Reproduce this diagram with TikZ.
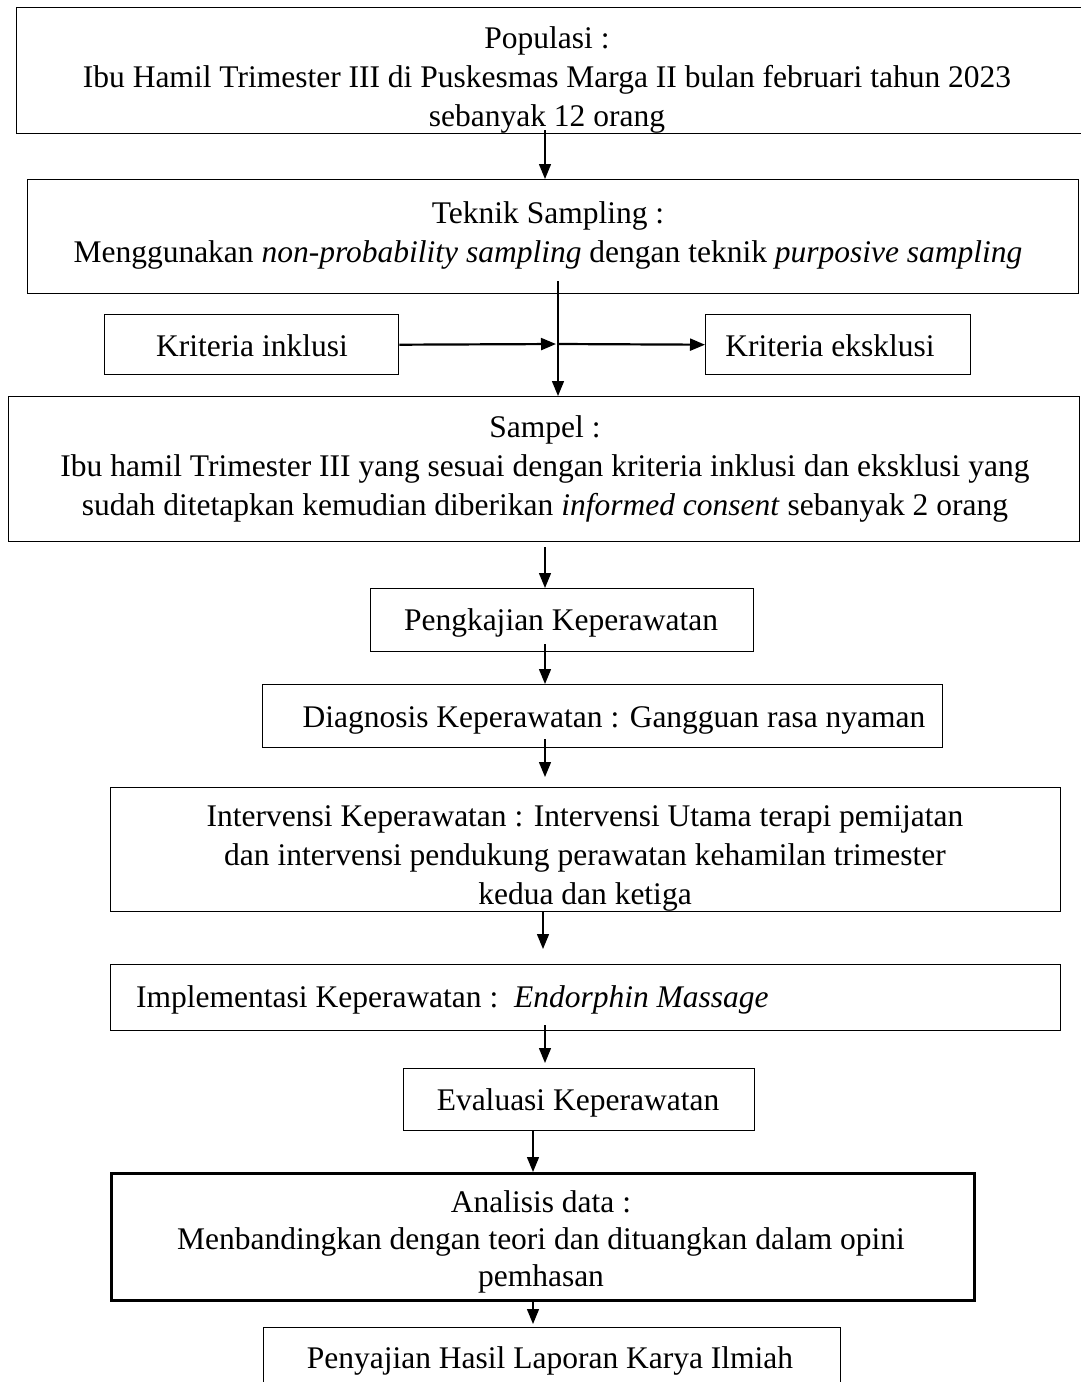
\documentclass[tikz,border=0pt]{standalone}
\usepackage{fontspec}
\setmainfont{Liberation Serif}
\usetikzlibrary{arrows.meta}
\begin{document}
\begin{tikzpicture}[x=1pt,y=-1pt,
  font=\fontsize{31.5pt}{39pt}\selectfont,
  box/.style={draw, line width=1.4pt, inner sep=0pt, anchor=north west},
  lbl/.style={inner sep=0pt, align=center},
  arr/.style={line width=1.4pt, -{Triangle[length=15pt,width=12pt]}},
  harr/.style={line width=2.2pt, -{Triangle[length=15pt,width=12pt]}},
]
\useasboundingbox (0,0) rectangle (1081,1382);
\clip (0,0) rectangle (1081,1382);
\fill[white] (0,0) rectangle (1081,1382);
% x positions of the connectors
\coordinate (x545) at (545,0);
\coordinate (x558) at (558,0);
\coordinate (x543) at (543,0);
\coordinate (x533) at (533,0);
\coordinate (j) at (558,344);
% boxes
\node[box, minimum width=1075pt, minimum height=126pt] (b1) at (16,7) {};
\node[box, minimum width=1051pt, minimum height=114pt] (b2) at (27,179) {};
\node[box, minimum width=294pt, minimum height=60pt] (b3) at (104,314) {};
\node[box, minimum width=265pt, minimum height=60pt] (b4) at (705,314) {};
\node[box, minimum width=1071pt, minimum height=145pt] (b5) at (8,396) {};
\node[box, minimum width=383pt, minimum height=63pt] (b6) at (370,588) {};
\node[box, minimum width=680pt, minimum height=63pt] (b7) at (262,684) {};
\node[box, minimum width=950pt, minimum height=124pt] (b8) at (110,787) {};
\node[box, minimum width=950pt, minimum height=66pt] (b9) at (110,964) {};
\node[box, minimum width=351pt, minimum height=62pt] (b10) at (403,1068) {};
\node[box, line width=3pt, minimum width=863pt, minimum height=127pt] (b11) at (110,1172) {};
\node[box, minimum width=577pt, minimum height=80pt] (b12) at (263,1327) {};
% texts
\node[lbl] (t1) at (547,80) {Populasi :\\Ibu Hamil Trimester III di Puskesmas Marga II bulan februari tahun 2023\\sebanyak 12 orang};
\node[lbl] (t2) at (548,235) {Teknik Sampling :\\Menggunakan \textit{non-probability sampling} dengan teknik \textit{purposive sampling}};
\node[lbl] (t3) at (252,346) {Kriteria inklusi};
\node[lbl] (t4) at (830,346) {Kriteria eksklusi};
\node[lbl] (t5) at (545,469) {Sampel :\\Ibu hamil Trimester III yang sesuai dengan kriteria inklusi dan eksklusi yang\\sudah ditetapkan kemudian diberikan \textit{informed consent} sebanyak 2 orang};
\node[lbl] (t6) at (561,623) {Pengkajian Keperawatan};
\node[lbl] (t7) at (614,720) {Diagnosis Keperawatan : Gangguan rasa nyaman};
\node[lbl] (t8) at (585,858) {Intervensi Keperawatan : Intervensi Utama terapi pemijatan\\dan intervensi pendukung perawatan kehamilan trimester\\kedua dan ketiga};
\node[lbl, anchor=west] (t9) at (136,1000) {Implementasi Keperawatan :\ \ \textit{Endorphin Massage}};
\node[lbl] (t10) at (578,1103) {Evaluasi Keperawatan};
\node[lbl, font=\fontsize{31.5pt}{37pt}\selectfont] (t11) at (541,1242) {Analisis data :\\Menbandingkan dengan teori dan dituangkan dalam opini\\pemhasan};
\node[lbl] (t12) at (550,1361) {Penyajian Hasil Laporan Karya Ilmiah};
% connectors
\draw[arr, shorten <=-4pt] (b1.south -| x545) -- (b2.north -| x545);
\draw[arr, shorten <=-13pt] (b2.south -| x558) -- (b5.north -| x558);
\draw[harr, shorten >=2pt] (b3.east) -- (j);
\draw[harr] (j) -- (b4.west);
\draw[arr, shorten <=5pt] (b5.south -| x545) -- (b6.north -| x545);
\draw[arr, shorten <=-8pt] (b6.south -| x545) -- (b7.north -| x545);
\draw[arr, shorten <=-9pt, shorten >=10pt] (b7.south -| x545) -- (b8.north -| x545);
\draw[arr, shorten >=15pt] (b8.south -| x543) -- (b9.north -| x543);
\draw[arr, shorten <=-6pt, shorten >=5pt] (b9.south -| x545) -- (b10.north -| x545);
\draw[arr] (b10.south -| x533) -- (b11.north -| x533);
\draw[arr, shorten >=3pt] (b11.south -| x533) -- (b12.north -| x533);
\end{tikzpicture}
\end{document}
